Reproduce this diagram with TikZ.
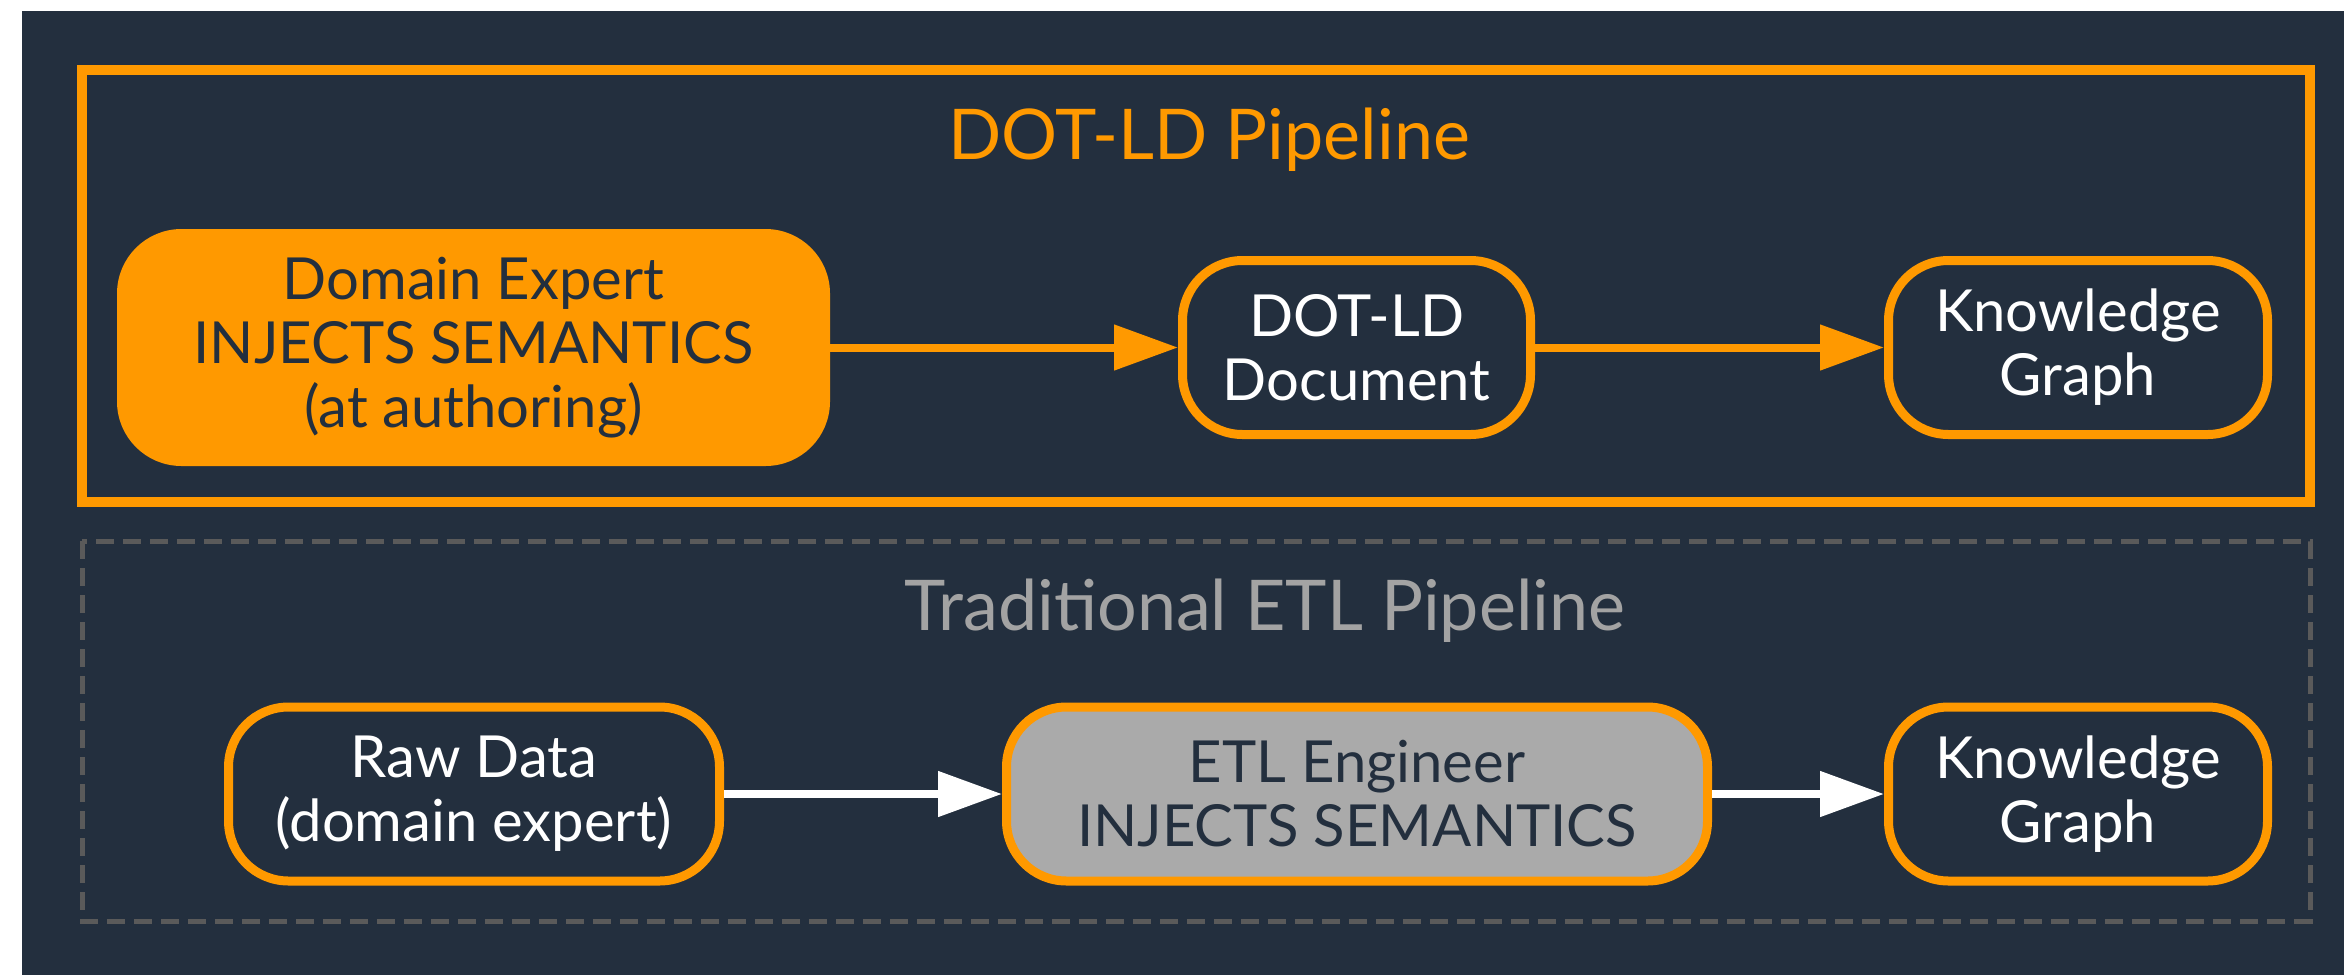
\documentclass[tikz,border=0pt]{standalone}
\usepackage{fontspec}
\setmainfont{Lato}
\usepackage{xcolor}
\usepackage{tikz}
\usetikzlibrary{arrows.meta,positioning}
\definecolor{awsdark}{HTML}{232F3E}
\definecolor{awsorange}{HTML}{FF9900}
\definecolor{etlgray}{HTML}{AAAAAA}
\definecolor{titlegray}{HTML}{A3A3A3}
\definecolor{dashgray}{HTML}{5A5A5A}

\begin{document}
\begin{tikzpicture}[
    stagebox/.style={draw=awsorange, line width=4.5pt, rounded corners=30pt, fill=awsdark, text=white, align=center, minimum height=87pt, inner sep=0pt, font=\fontsize{29}{32}\selectfont},
    keybox/.style={stagebox, fill=awsorange, draw=awsorange, text=awsdark},
    etlbox/.style={stagebox, fill=etlgray, text=awsdark},
    pipetitle/.style={anchor=base, font=\fontsize{35}{40}\selectfont},
    arrow/.style={-{Triangle[length=32pt, width=22pt]}, line width=4pt, draw=awsorange},
    whitearrow/.style={arrow, draw=white}
  ]
    % background and margins
    \fill[white] (0,0) rectangle (1172pt,-487.5pt);
    \fill[awsdark] (11pt,-5.5pt) rectangle (1172pt,-487.5pt);
    \useasboundingbox (0,0) rectangle (1172pt,-487.5pt);

    % DOT-LD pipeline
    \draw[awsorange, line width=5pt] (41pt,-35pt) rectangle (1155pt,-251pt);
    \node[pipetitle, text=awsorange] (dottitle) at (604.5pt,-79.5pt) {DOT-LD Pipeline};
    \node[keybox, minimum width=352pt, minimum height=114pt] (expert) at (236.75pt,-173.75pt) {Domain Expert\\INJECTS SEMANTICS\\(at authoring)};
    \node[stagebox, minimum width=174pt, right=174pt of expert] (dotld) {DOT-LD\\Document};
    \node[stagebox, minimum width=189.5pt, right=174.5pt of dotld] (kgtop) {Knowledge\\Graph};
    \draw[arrow] (expert) -- (dotld);
    \draw[arrow] (dotld) -- (kgtop);

    % traditional ETL pipeline
    \draw[dashgray, line width=2.5pt, dash pattern=on 9pt off 4.5pt] (41pt,-270.5pt) rectangle (1155pt,-460.5pt);
    \node[pipetitle, text=titlegray] (etltitle) at (632.5pt,-315pt) {Traditional ETL Pipeline};
    \node[stagebox, minimum width=245.5pt] (raw) at (237pt,-397pt) {Raw Data\\(domain expert)};
    \node[etlbox, minimum width=350.5pt, right=139pt of raw] (etl) {ETL Engineer\\INJECTS SEMANTICS};
    \node[stagebox, minimum width=189.5pt, right=86pt of etl] (kgbot) {Knowledge\\Graph};
    \draw[whitearrow] (raw) -- (etl);
    \draw[whitearrow] (etl) -- (kgbot);
  \end{tikzpicture}
\end{document}
